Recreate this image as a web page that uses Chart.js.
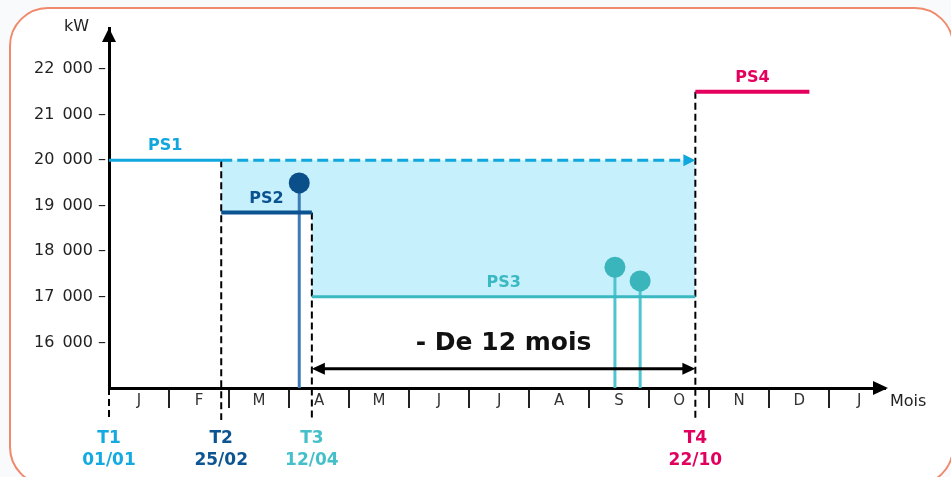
<!DOCTYPE html>
<html>
<head>
<meta charset="utf-8">
<script src="https://cdn.jsdelivr.net/npm/chart.js@4/dist/chart.umd.min.js"></script>
<style>
  html, body { margin: 0; padding: 0; background: #fff; }
</style>
</head>
<body>
<canvas id="chart" width="951" height="477"></canvas>
<script>
// x unit = one month, 0 = 1st January
const months = ['J', 'F', 'M', 'A', 'M', 'J', 'J', 'A', 'S', 'O', 'N', 'D', 'J'];
const yTicks = [16000, 17000, 18000, 19000, 20000, 21000, 22000];

// subscribed power levels
const psNames = ['PS1', 'PS2', 'PS3', 'PS4'];
const psLevel = [20000, 18850, 17000, 21500];
const psStart = [0, 1.87, 3.38, 9.77];
const psEnd = [1.87, 3.38, 9.77, 11.67];
const ps1Extension = [1.87, 9.77];

// change dates
const tNames = ['T1', 'T2', 'T3', 'T4'];
const tDates = ['01/01', '25/02', '12/04', '22/10'];
const tPos = [0, 1.87, 3.38, 9.77];
const tTop = [15000, 20000, 18850, 21500];

// power peaks
const peakX = [3.17, 8.43, 8.85];
const peakY = [19500, 17650, 17350];

// "- De 12 mois" span
const spanX = [3.38, 9.77];
const spanY = 15420;

const psColors = ['#10a7de', '#0a5290', '#3bb9c2', '#e5005e'];
const tColors = ['#14a9e1', '#0d5592', '#45c0c8', '#e2005e'];
const stemColors = ['#3c7bb5', '#4ec4d0', '#4ec4d0'];
const dotColors = ['#0b4f8a', '#3ab5bb', '#3ab5bb'];

const seg = (data, color, width, dash) => ({
    data: data,
    showLine: true,
    borderColor: color,
    borderWidth: width,
    borderDash: dash || [],
    pointRadius: 0,
    fill: false,
    clip: false
});

const datasets = [];
psNames.forEach((n, i) => {
    datasets.push(seg([{ x: psStart[i], y: psLevel[i] }, { x: psEnd[i], y: psLevel[i] }], psColors[i], i % 2 ? 4 : 3));
});
datasets.push(seg([{ x: ps1Extension[0], y: psLevel[0] }, { x: ps1Extension[1] - 0.15, y: psLevel[0] }], psColors[0], 3, [11, 5]));
peakX.forEach((x, i) => {
    const d = seg([{ x: x, y: 15000 }, { x: x, y: peakY[i] }], stemColors[i], 3);
    d.pointRadius = [0, 10.5];
    d.pointBackgroundColor = dotColors[i];
    d.pointBorderWidth = 0;
    datasets.push(d);
});
tPos.forEach((x, i) => {
    datasets.push(seg([{ x: x, y: tTop[i] }, { x: x, y: 14300 }], '#000', 2, [7, 4]));
});
// area between PS1 and the later levels
datasets.push({
    data: [
        { x: psStart[1], y: psLevel[1] }, { x: psEnd[1], y: psLevel[1] },
        { x: psStart[2], y: psLevel[2] }, { x: psEnd[2], y: psLevel[2] }
    ],
    showLine: true,
    borderWidth: 0,
    pointRadius: 0,
    backgroundColor: '#c6f0fc',
    fill: { value: psLevel[0] }
});

const fmt = v => String(v).replace(/(\d+)(\d{3})$/, '$1\u2002$2');

const decor = {
    id: 'decor',
    beforeDraw(chart) {
        const ctx = chart.ctx;
        ctx.save();
        ctx.fillStyle = '#f9fafb';
        ctx.fillRect(0, 0, chart.width, chart.height);
        ctx.beginPath();
        ctx.roundRect(10, 8, 943, 477, 38);
        ctx.fillStyle = '#fff';
        ctx.fill();
        ctx.lineWidth = 2;
        ctx.strokeStyle = '#ef8a6c';
        ctx.stroke();
        ctx.restore();
    },
    afterDraw(chart) {
        const ctx = chart.ctx;
        const xs = chart.scales.x, ys = chart.scales.y;
        const a = chart.chartArea;
        const tri = (p1, p2, p3, color) => {
            ctx.beginPath();
            ctx.moveTo(p1[0], p1[1]); ctx.lineTo(p2[0], p2[1]); ctx.lineTo(p3[0], p3[1]);
            ctx.closePath();
            ctx.fillStyle = color;
            ctx.fill();
        };
        ctx.save();
        // axis arrows
        tri([a.left, a.top], [a.left - 7, a.top + 14], [a.left + 7, a.top + 14], '#000');
        tri([a.right + 3, a.bottom], [a.right - 12, a.bottom - 7], [a.right - 12, a.bottom + 7], '#000');
        ctx.fillStyle = '#222';
        ctx.font = '16px "DejaVu Sans"';
        ctx.textBaseline = 'middle';
        ctx.textAlign = 'right';
        ctx.fillText('kW', a.left - 20, a.top - 1);
        ctx.textAlign = 'left';
        ctx.fillText('Mois', a.right + 5, a.bottom + 14);

        // PS1 dashed arrow head
        const px = xs.getPixelForValue(ps1Extension[1]), py = ys.getPixelForValue(psLevel[0]);
        tri([px, py], [px - 12, py - 6], [px - 12, py + 6], psColors[0]);

        // PS labels
        ctx.font = 'bold 16px "DejaVu Sans"';
        ctx.textAlign = 'center';
        psNames.forEach((n, i) => {
            ctx.fillStyle = psColors[i];
            ctx.fillText(n, xs.getPixelForValue((psStart[i] + psEnd[i]) / 2), ys.getPixelForValue(psLevel[i]) - 14);
        });

        // 12 month span
        const x1 = xs.getPixelForValue(spanX[0]), x2 = xs.getPixelForValue(spanX[1]);
        const sy = ys.getPixelForValue(spanY);
        ctx.strokeStyle = '#000';
        ctx.lineWidth = 3;
        ctx.beginPath();
        ctx.moveTo(x1 + 6, sy); ctx.lineTo(x2 - 6, sy);
        ctx.stroke();
        tri([x1, sy], [x1 + 13, sy - 6], [x1 + 13, sy + 6], '#000');
        tri([x2, sy], [x2 - 13, sy - 6], [x2 - 13, sy + 6], '#000');
        ctx.fillStyle = '#111';
        ctx.font = 'bold 25px "DejaVu Sans"';
        ctx.fillText('- De 12 mois', (x1 + x2) / 2, sy - 25);

        // change dates under the axis
        ctx.font = 'bold 17px "DejaVu Sans"';
        tNames.forEach((n, i) => {
            const tx = xs.getPixelForValue(tPos[i]);
            ctx.fillStyle = tColors[i];
            ctx.fillText(n, tx, a.bottom + 51);
            ctx.fillText(tDates[i], tx, a.bottom + 73);
        });
        ctx.restore();
    }
};

new Chart(document.getElementById('chart'), {
    type: 'scatter',
    data: { datasets: datasets },
    options: {
        responsive: false,
        animation: false,
        layout: { padding: { left: 0, top: 28, right: 66, bottom: 0 } },
        plugins: {
            legend: { display: false },
            tooltip: { enabled: false }
        },
        scales: {
            x: {
                type: 'linear',
                min: 0,
                max: 12.93,
                afterBuildTicks: s => {
                    s.ticks = [];
                    months.forEach((m, i) => {
                        if (i > 0) s.ticks.push({ value: i });
                        s.ticks.push({ value: i + 0.5 });
                    });
                },
                ticks: {
                    autoSkip: false,
                    maxRotation: 0,
                    padding: -16,
                    color: '#333',
                    font: { family: 'DejaVu Sans', size: 15 },
                    callback: v => (v % 1 === 0.5) ? months[Math.floor(v)] : ''
                },
                grid: {
                    display: true,
                    drawOnChartArea: false,
                    drawTicks: true,
                    tickLength: 20,
                    lineWidth: 2,
                    color: c => (c.tick && c.tick.value % 1 === 0) ? '#222' : 'rgba(0,0,0,0)'
                },
                border: { display: true, color: '#000', width: 3 },
                afterFit: s => { s.height = 89; }
            },
            y: {
                type: 'linear',
                min: 15000,
                max: 22900,
                afterBuildTicks: s => { s.ticks = yTicks.map(v => ({ value: v })); },
                ticks: {
                    padding: 3,
                    color: '#222',
                    font: { family: 'DejaVu Sans', size: 16 },
                    callback: v => fmt(v) + ' –'
                },
                grid: { display: false, drawTicks: false },
                border: { display: true, color: '#000', width: 3 },
                afterFit: s => { s.width = 109; }
            }
        }
    },
    plugins: [decor]
});
</script>
</body>
</html>
